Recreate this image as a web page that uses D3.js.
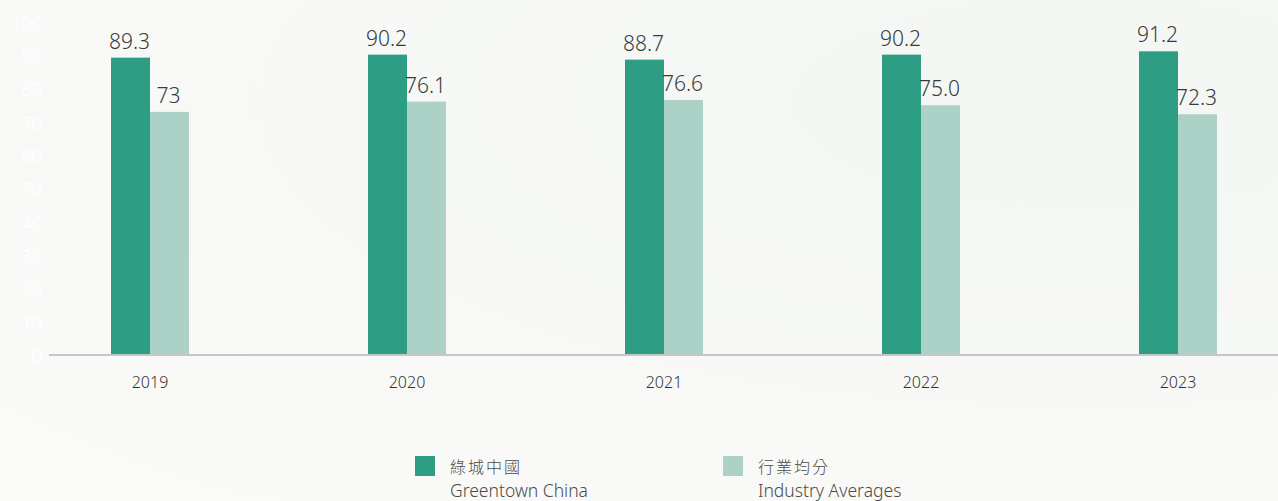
<!DOCTYPE html>
<html>
<head>
<meta charset="utf-8">
<script src="https://cdn.jsdelivr.net/npm/d3@7"></script>
<style>
  html, body { margin: 0; padding: 0; }
  body { width: 1278px; height: 501px; overflow: hidden;
         background: radial-gradient(ellipse at 85% 20%, #f3f6f3 0%, #f8f9f7 60%, #fafbf9 100%); }
  svg { display: block; font-family: "Noto Sans", "Open Sans", sans-serif; font-weight: 300; }
</style>
</head>
<body>
<div id="chart"></div>
<script>
const years = ['2019', '2020', '2021', '2022', '2023'];
const greentown = [89.3, 90.2, 88.7, 90.2, 91.2];
const industry = [73, 76.1, 76.6, 75.0, 72.3];
const valueLabels = {
  greentown: ['89.3', '90.2', '88.7', '90.2', '91.2'],
  industry: ['73', '76.1', '76.6', '75.0', '72.3'],
};
const yTicks = [0, 10, 20, 30, 40, 50, 60, 70, 80, 90, 100];
const seriesKeys = ['greentown', 'industry'];
const seriesNamesZh = ['綠城中國', '行業均分'];
const seriesNamesEn = ['Greentown China', 'Industry Averages'];
const colors = { greentown: '#2d9e84', industry: '#acd1c6' };

const width = 1278;
const height = 501;

const svg = d3.select('#chart')
  .append('svg')
  .attr('width', width)
  .attr('height', height);

const x0 = d3.scaleBand().domain(years).range([21.5, 1306.5]);
const barW = 39;
const x1 = d3.scaleBand()
  .domain(seriesKeys)
  .range([x0.bandwidth() / 2 - barW, x0.bandwidth() / 2 + barW]);
const y = d3.scaleLinear().domain([0, 100]).range([355, 22]);

// faint white y axis labels
const yAxis = svg.append('g')
  .attr('transform', 'translate(42,0)')
  .call(d3.axisLeft(y).tickValues(yTicks).tickSize(0).tickPadding(0));
yAxis.select('.domain').remove();
yAxis.selectAll('text')
  .attr('fill', '#ffffff')
  .attr('font-size', 18)
  .attr('dy', '0.4em')
  .style('font-family', '"Noto Sans", sans-serif');

const rows = years.map((yr, i) => ({
  year: yr,
  values: [
    { key: 'greentown', v: greentown[i], label: valueLabels.greentown[i] },
    { key: 'industry', v: industry[i], label: valueLabels.industry[i] },
  ],
}));

const groups = svg.append('g')
  .selectAll('g')
  .data(rows)
  .join('g')
  .attr('transform', (d) => `translate(${x0(d.year)},0)`);

groups.selectAll('rect')
  .data((d) => d.values)
  .join('rect')
  .attr('x', (d) => x1(d.key))
  .attr('y', (d) => y(d.v))
  .attr('width', x1.bandwidth())
  .attr('height', (d) => y(0) - y(d.v))
  .attr('fill', (d) => colors[d.key]);

groups.selectAll('text.val')
  .data((d) => d.values)
  .join('text')
  .attr('class', 'val')
  .attr('x', (d) => x1(d.key) + x1.bandwidth() / 2 - 1)
  .attr('y', (d) => y(d.v) - 9)
  .attr('text-anchor', 'middle')
  .attr('font-size', 21)
  .attr('fill', '#3a3a3a')
  .text((d) => d.label);

// baseline
svg.append('line')
  .attr('x1', 49)
  .attr('x2', width)
  .attr('y1', y(0))
  .attr('y2', y(0))
  .attr('stroke', '#c6c6c6')
  .attr('stroke-width', 2);

// year labels
svg.append('g')
  .selectAll('text')
  .data(years)
  .join('text')
  .attr('x', (d) => x0(d) + x0.bandwidth() / 2)
  .attr('y', 388)
  .attr('text-anchor', 'middle')
  .attr('font-size', 16)
  .attr('fill', '#333333')
  .text((d) => d);

// legend
const legendX = [415, 723];
const legend = svg.append('g')
  .selectAll('g')
  .data(seriesKeys)
  .join('g')
  .attr('transform', (d, i) => `translate(${legendX[i]},456)`);

legend.append('rect')
  .attr('width', 20)
  .attr('height', 20)
  .attr('fill', (d) => colors[d]);

legend.append('text')
  .attr('x', 35)
  .attr('y', 17)
  .attr('font-size', 16)
  .attr('letter-spacing', 2)
  .attr('fill', '#4a4a4a')
  .style('font-family', '"Noto Sans CJK TC", "Noto Sans CJK SC", sans-serif')
  .text((d, i) => seriesNamesZh[i]);

legend.append('text')
  .attr('x', 35)
  .attr('y', 41)
  .attr('font-size', 17.5)
  .attr('fill', '#4a4a4a')
  .text((d, i) => seriesNamesEn[i]);
</script>
</body>
</html>
